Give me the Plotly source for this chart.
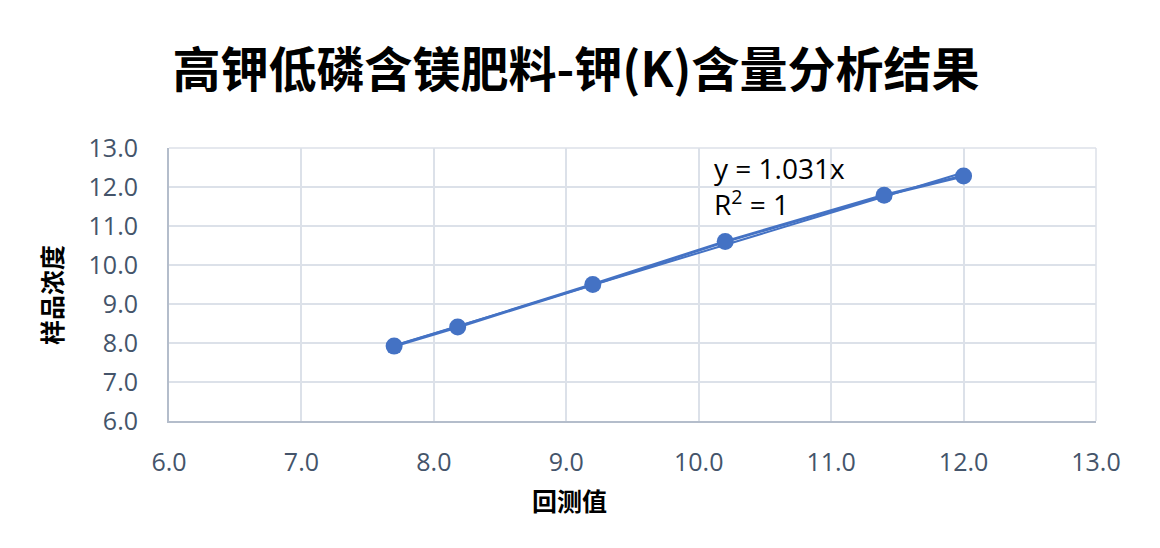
import plotly.graph_objects as go

# 回测值 vs 样品浓度 (K content check)
back_measured = [7.7, 8.18, 9.2, 10.2, 11.4, 12.0]
sample_conc = [7.92, 8.41, 9.5, 10.6, 11.79, 12.28]
trend_slope = 1.031
trend_r2 = 1
tick_vals = [6, 7, 8, 9, 10, 11, 12, 13]
tick_text = ['6.0', '7.0', '8.0', '9.0', '10.0', '11.0', '12.0', '13.0']

title_text = '高钾低磷含镁肥料-钾(K)含量分析结果'
x_title = '回测值'
y_title = '样品浓度'

blue = '#4472c4'
grid = '#dce1e9'
axis_col = '#b4bdcb'
tick_col = '#44546a'
cjk = 'Noto Sans CJK SC'

W, H = 1160, 548
OX, OY = 7, 8   # page body margin shifts the figure
# plot box as seen on the screen
px0, px1, py0, py1 = 168, 1095, 148, 421
L, R = px0 - OX, W - (px1 - OX)
T, B = py0 - OY, H - (py1 - OY)
pw = px1 - px0
ph = py1 - py0


def xp(sx):
    return (sx - px0) / pw


def yp(sy):
    return (py1 - sy) / ph


fig = go.Figure()

# linear trendline through origin (Excel style), drawn over data x range
tx = [min(back_measured), max(back_measured)]
fig.add_trace(go.Scatter(
    x=tx, y=[trend_slope*v for v in tx],
    mode='lines',
    line=dict(color=blue, width=2),
    showlegend=False,
))
fig.add_trace(go.Scatter(
    x=back_measured, y=sample_conc,
    mode='lines+markers',
    line=dict(color=blue, width=3),
    marker=dict(color=blue, size=17),
    showlegend=False,
))

axis_style = dict(range=[6, 13], tickvals=tick_vals, ticktext=tick_text,
                  showgrid=True, gridcolor=grid, gridwidth=1.5,
                  showline=True, linecolor=axis_col, linewidth=2,
                  zeroline=False, ticks='',
                  tickfont=dict(family='Open Sans', size=25, color=tick_col))
fig.update_xaxes(**axis_style, ticklabelstandoff=18)
fig.update_yaxes(**axis_style, ticklabelstandoff=24)

# mirror the top / right edge as gridlines
fig.add_shape(type='line', xref='paper', yref='paper', x0=0, x1=1, y0=1, y1=1,
              line=dict(color=grid, width=1.5), layer='below')
fig.add_shape(type='line', xref='paper', yref='paper', x0=1, x1=1, y0=0, y1=1,
              line=dict(color=grid, width=1.5), layer='below')

fig.add_annotation(x=xp(568), y=yp(500), xref='paper', yref='paper',
                   xanchor='center', yanchor='middle',
                   text='<b>'+x_title+'</b>', showarrow=False,
                   font=dict(family=cjk, size=25, color='#000000'))
fig.add_annotation(x=xp(50), y=yp(295), xref='paper', yref='paper',
                   xanchor='center', yanchor='middle',
                   text='<b>'+y_title+'</b>', showarrow=False, textangle=-90,
                   font=dict(family=cjk, size=25, color='#000000'))
fig.add_annotation(x=xp(711), y=yp(186), xref='paper', yref='paper',
                   text=f'y = {trend_slope}x<br>R<sup>2</sup> = {trend_r2}',
                   showarrow=False, xanchor='left', yanchor='middle', align='left',
                   font=dict(family='Open Sans', size=28, color='#000000'))

fig.update_layout(
    width=W, height=H,
    margin=dict(l=L, r=R, t=T, b=B),
    paper_bgcolor='white', plot_bgcolor='white',
    title=dict(text='<b>'+title_text+'</b>', x=(575-OX)/W, xanchor='center',
               y=1-(70-OY)/H, yanchor='middle',
               font=dict(family=cjk, size=48, color='#000000')),
)

fig.write_html('out.html')
